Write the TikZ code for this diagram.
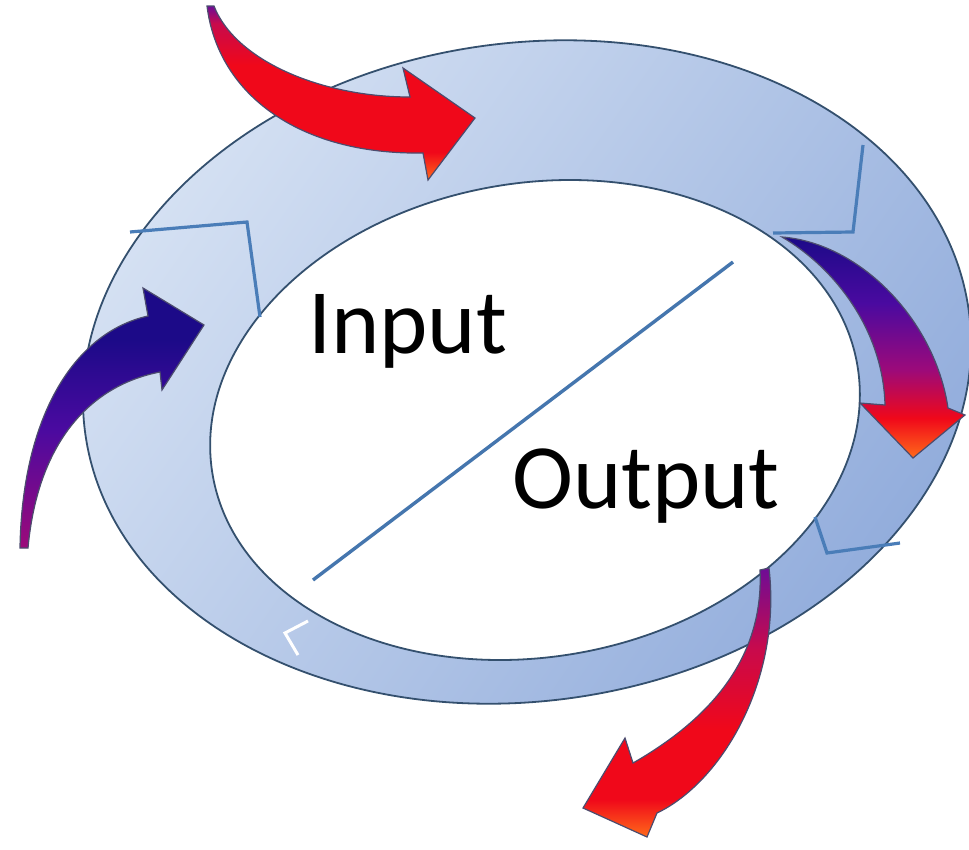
\documentclass[tikz,border=0pt]{standalone}
\usepackage{fontspec}
\setmainfont{Carlito}
\definecolor{ringL}{HTML}{D5E1F3}
\definecolor{ringD}{HTML}{90ABDB}
\definecolor{ringEdge}{HTML}{34506E}
\definecolor{chev}{HTML}{4A7DB8}
\definecolor{diag}{HTML}{4576AE}
\definecolor{arrEdge}{HTML}{4C4C6E}
\definecolor{aNavy}{HTML}{1C0A88}
\definecolor{aIndigo}{HTML}{4A0AA0}
\definecolor{aPurple}{HTML}{6E0C96}
\definecolor{aMagenta}{HTML}{9C0A7A}
\definecolor{aCrimson}{HTML}{C80A4C}
\definecolor{aRed}{HTML}{F0081A}
\definecolor{aOrange}{HTML}{FF6A1A}
\pgfdeclarehorizontalshading{ringshade}{100bp}{color(0bp)=(ringL); color(25bp)=(ringL); color(75bp)=(ringD); color(100bp)=(ringD)}
\pgfdeclareverticalshading{topshade}{100bp}{color(0bp)=(aOrange); color(25bp)=(aOrange); color(33bp)=(aRed); color(58bp)=(aRed); color(70bp)=(aCrimson); color(75bp)=(aPurple); color(100bp)=(aPurple)}
\pgfdeclareverticalshading{rightshade}{100bp}{color(0bp)=(aOrange); color(25bp)=(aOrange); color(34bp)=(aRed); color(45bp)=(aMagenta); color(60bp)=(aIndigo); color(75bp)=(aNavy); color(100bp)=(aNavy)}
\pgfdeclareverticalshading{leftshade}{100bp}{color(0bp)=(aMagenta); color(25bp)=(aMagenta); color(48bp)=(aIndigo); color(65bp)=(aNavy); color(100bp)=(aNavy)}
\pgfdeclareverticalshading{bottomshade}{100bp}{color(0bp)=(aOrange); color(25bp)=(aOrange); color(32bp)=(aRed); color(45bp)=(aRed); color(60bp)=(aCrimson); color(75bp)=(aPurple); color(100bp)=(aPurple)}
\tikzset{
  ringpath/.style={draw=ringEdge, line width=1.8pt, shading=ringshade, shading angle=-35},
  holepath/.style={draw=ringEdge, line width=1.8pt, fill=white},
  chevline/.style={draw=chev, line width=3.2pt, line join=miter},
  whiteline/.style={draw=white, line width=3pt},
  diagline/.style={draw=diag, line width=3.4pt},
  bigarrow/.style={draw=arrEdge, line width=1.2pt, line join=miter},
  lbl/.style={inner sep=0pt, font=\fontsize{92}{100}\selectfont, text=black}
}
\begin{document}
\begin{tikzpicture}[x=1pt,y=-1pt]
\useasboundingbox (0,0) rectangle (969,849);
% ring
\path[ringpath, rotate around={8:(527,372)}] (527,372) ellipse [x radius=446, y radius=329];
\path[holepath, rotate around={9.6:(535,420)}] (535,420) ellipse [x radius=327, y radius=237];
% chevron outlines
\draw[chevline] (130,232) -- (247,222) -- (260,317);
\draw[chevline] (863,145) -- (853,232) -- (773,233);
\draw[chevline] (815,517) -- (827,553) -- (900,543);
\draw[whiteline] (308,621) -- (285,633) -- (298,655);
% diagonal
\coordinate (d1) at (313,580);
\coordinate (d2) at (733,262);
\draw[diagline] (d1) -- (d2);
% labels
\node[lbl, anchor=base west] (input) at (308,353) {Input};
\node[lbl, anchor=base west] (output) at (512,508) {Output};
% top arrow
\path[bigarrow, shading=topshade]
  (214,6) .. controls (235,60) and (320,97) .. (410,97)
  -- (403,68) -- (475,118) -- (428,180) -- (423,153)
  .. controls (300,155) and (218,95) .. (207,6) -- cycle;
% right arrow
\path[bigarrow, shading=rightshade]
  (782,237) .. controls (860,243) and (935,320) .. (948,408)
  -- (965,415) -- (913,458) -- (860,403) -- (885,405)
  .. controls (883,330) and (835,268) .. (782,237) -- cycle;
% left arrow
\path[bigarrow, shading=leftshade]
  (20,548) .. controls (22,420) and (72,333) .. (148,316)
  -- (143,288) -- (204,325) -- (162,390) -- (160,372)
  .. controls (92,385) and (38,440) .. (28,548) -- cycle;
% bottom arrow
\path[bigarrow, shading=bottomshade]
  (769,568) .. controls (782,680) and (722,782) .. (657,813)
  -- (647,837) -- (583,808) -- (625,738) -- (633,763)
  .. controls (708,720) and (764,660) .. (760,570) -- cycle;
\end{tikzpicture}
\end{document}
